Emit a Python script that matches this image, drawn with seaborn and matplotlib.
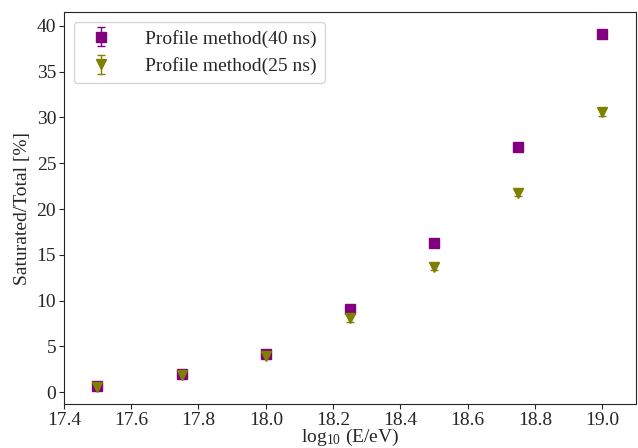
import numpy as np
import pandas as pd
import seaborn as sns
import matplotlib.pyplot as plt

# Data
log_e = [17.5, 17.75, 18.0, 18.25, 18.5, 18.75, 19.0]
sat_40ns = [0.7, 2.0, 4.2, 9.1, 16.3, 26.8, 39.1]
err_40ns = [0.2, 0.25, 0.3, 0.4, 0.4, 0.4, 0.4]
sat_25ns = [0.6, 1.9, 4.0, 8.1, 13.7, 21.8, 30.6]
err_25ns = [0.2, 0.25, 0.3, 0.4, 0.4, 0.4, 0.4]

sns.set_style("ticks")
plt.rcParams["font.family"] = ["Liberation Serif", "DejaVu Serif"]
plt.rcParams["mathtext.fontset"] = "custom"
plt.rcParams["mathtext.rm"] = "Liberation Serif"

fig, ax = plt.subplots(figsize=(6.38, 4.48), dpi=100)

ax.errorbar(log_e, sat_40ns, yerr=err_40ns, fmt="s", color="purple",
            markersize=7.5, capsize=3, elinewidth=1, label="Profile method(40 ns)")
ax.errorbar(log_e, sat_25ns, yerr=err_25ns, fmt="v", color="olive",
            markersize=7.5, capsize=3, elinewidth=1, label="Profile method(25 ns)")

ax.set_xlim(17.4, 19.1)
ax.set_ylim(-1.3, 41.5)
ax.set_xticks(np.arange(17.4, 19.01, 0.2))
ax.set_yticks(np.arange(0, 41, 5))
ax.set_xlabel(r"$\mathrm{log_{10}}$ (E/eV)", fontsize=14, labelpad=-1)
ax.set_ylabel("Saturated/Total [%]", fontsize=14, labelpad=4)
ax.tick_params(labelsize=14, pad=2)
ax.legend(loc="upper left", fontsize=14, frameon=True,
          handletextpad=1.3, borderaxespad=0.5, labelspacing=0.5)
for s in ax.spines.values():
    s.set_visible(True)

plt.subplots_adjust(left=0.1, right=0.997, top=0.973, bottom=0.098)
plt.savefig("out.png", dpi=100)
